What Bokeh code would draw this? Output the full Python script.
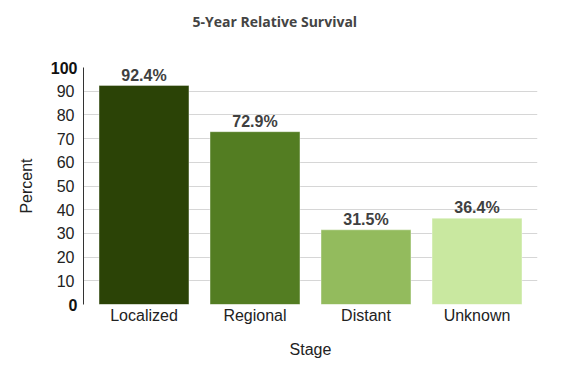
from bokeh.plotting import figure
from bokeh.models import (Range1d, FixedTicker, LabelSet, ColumnDataSource,
                          LinearAxis, Title)
from bokeh.core.properties import value
from bokeh.embed import file_html
from bokeh.resources import INLINE

stages = ["Localized", "Regional", "Distant", "Unknown"]
survival = [92.4, 72.9, 31.5, 36.4]
bar_colors = ["#2b4306", "#537d22", "#93bb5d", "#c9e8a0"]
y_ticks = [0, 10, 20, 30, 40, 50, 60, 70, 80, 90, 100]
bold_ticks = [0, 100]
normal_ticks = [t for t in y_ticks if t not in bold_ticks]

xs = list(range(len(stages)))
src = ColumnDataSource(dict(
    x=xs, top=survival, color=bar_colors,
    label=[f"{v}%" for v in survival],
))

x_start, x_end = -0.545, len(stages) - 1 + 0.545
FONT = "Liberation Sans"

p = figure(width=553, height=360,
           x_range=Range1d(x_start, x_end), y_range=Range1d(0, 100),
           output_backend="svg", toolbar_location=None,
           min_border_left=83, min_border_right=16,
           min_border_top=67, min_border_bottom=54)

# spacer between frame and title (nearest the frame)
p.add_layout(Title(text=" ", text_font=FONT, text_font_size="14px",
                   standoff=14), "above")

p.title.text = "5-Year Relative Survival"
p.title.text_font = "Open Sans"
p.title.text_font_size = "14px"
p.title.text_font_style = "bold"
p.title.align = "left"
p.title.offset = 109
p.title.standoff = 10

p.vbar(x="x", top="top", width=0.81, fill_color="color",
       line_color="white", line_alpha=0.35, line_width=1, source=src)

p.add_layout(LabelSet(x="x", y="top", text="label", source=src,
                      text_align="center", text_baseline="bottom", y_offset=2,
                      text_font=value(FONT), text_font_size=value("16px"),
                      text_font_style=value("bold"),
                      text_color=value("#404040")))

# y axis nearest the frame: bold 0 and 100
ax_bold = p.yaxis[0]
ax_bold.ticker = FixedTicker(ticks=bold_ticks)
ax_bold.major_tick_out = 0
ax_bold.major_tick_in = 0
ax_bold.minor_tick_out = 0
ax_bold.minor_tick_in = 0
ax_bold.axis_line_color = "#333333"
ax_bold.major_label_standoff = 6
ax_bold.major_label_text_font = FONT
ax_bold.major_label_text_font_size = "16px"
ax_bold.major_label_text_font_style = "bold"
ax_bold.major_label_text_color = "#111111"

# outer y axis: regular tick labels aligned into the same column
ax_norm = LinearAxis(ticker=FixedTicker(ticks=normal_ticks),
                     axis_line_color=None,
                     major_tick_out=0, major_tick_in=0,
                     minor_tick_out=0, minor_tick_in=0,
                     major_label_standoff=-27,
                     major_label_text_font=FONT,
                     major_label_text_font_size="16px",
                     major_label_text_color="#222222",
                     axis_label="Percent",
                     axis_label_text_font=FONT,
                     axis_label_text_font_size="16px",
                     axis_label_text_font_style="normal",
                     axis_label_text_color="#222222",
                     axis_label_standoff=19)
p.add_layout(ax_norm, "left")

# x axis
p.xaxis.ticker = FixedTicker(ticks=xs)
p.xaxis.major_label_overrides = {i: s for i, s in zip(xs, stages)}
p.xaxis.major_tick_out = 0
p.xaxis.major_tick_in = 0
p.xaxis.minor_tick_out = 0
p.xaxis.minor_tick_in = 0
p.xaxis.axis_line_color = None
p.xaxis.major_label_standoff = 2
p.xaxis.major_label_text_font = FONT
p.xaxis.major_label_text_font_size = "16px"
p.xaxis.major_label_text_color = "#222222"
p.xaxis.axis_label = "Stage"
p.xaxis.axis_label_text_font = FONT
p.xaxis.axis_label_text_font_size = "16px"
p.xaxis.axis_label_text_font_style = "normal"
p.xaxis.axis_label_text_color = "#222222"
p.xaxis.axis_label_standoff = 14

p.xgrid.grid_line_color = None
p.ygrid.ticker = FixedTicker(ticks=y_ticks)
p.ygrid.grid_line_color = "#d6d6d6"
p.ygrid.grid_line_width = 1.2
p.outline_line_color = None

open("out.html", "w").write(file_html(p, INLINE))
